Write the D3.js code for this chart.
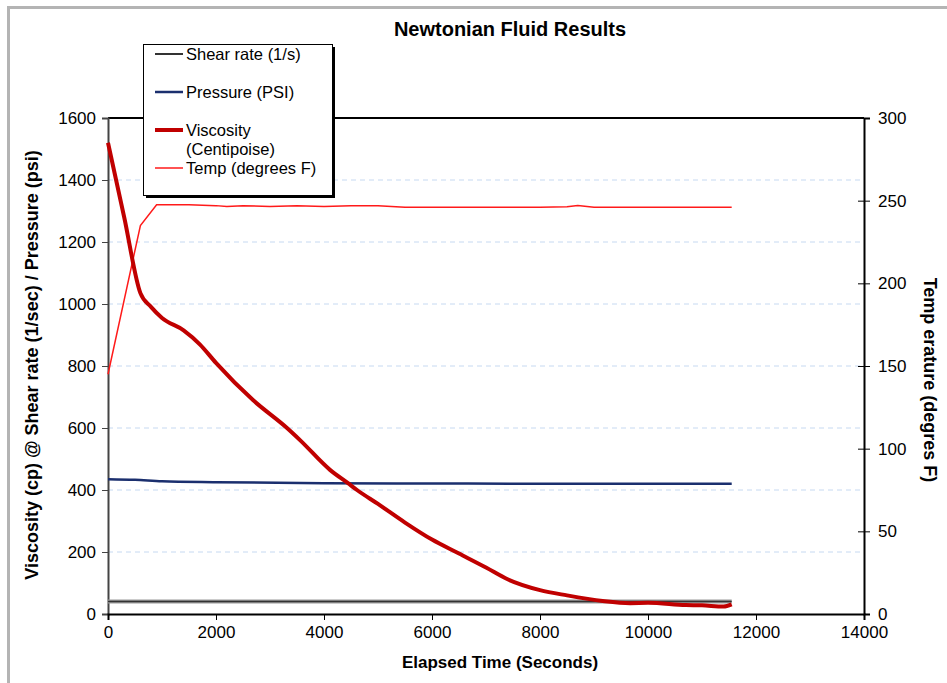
<!DOCTYPE html>
<meta charset="utf-8">
<style>
body { margin: 0; background: #fff; }
svg { font-family: "Liberation Sans", Arial, sans-serif; }
.grid line { stroke: #c6d9f1; stroke-dasharray: 5,4; }
.tick text { font-size: 17px; fill: #000; }
</style>
<svg width="947" height="683"></svg>
<script src="https://cdn.jsdelivr.net/npm/d3@7"></script>
<script>
// data
var viscTime = [0, 300, 600, 800, 1000, 1400, 1700, 2000, 2685, 3315, 3556, 4111, 4444, 4611, 5000, 5500, 6000, 6500, 7000, 7400, 8000, 8500, 9160, 9670, 10000, 10700, 11000, 11400, 11550];
var viscosity = [1520, 1280, 1035, 990, 955, 915, 870, 810, 690, 600, 561, 465, 422, 400, 355, 295, 240, 195, 150, 112, 77, 60, 42, 35, 36, 29, 28, 24, 31];
var presTime = [0, 500, 1000, 2000, 4000, 6000, 8000, 11550];
var pressure = [435, 433, 428, 425, 422, 421, 420, 420];
var shearTime = [0, 11550];
var shearRate = [40, 40];
var tempTime = [0, 600, 900, 1500, 2000, 2200, 2500, 3000, 3500, 4000, 4500, 5000, 5500, 6000, 7000, 8000, 8500, 8700, 9000, 10000, 11550];
var temperature = [145, 235, 247.5, 247.5, 247, 246.5, 247, 246.5, 247, 246.5, 247, 247, 246, 246, 246, 246, 246.3, 247, 246, 246, 246];
var leftTicks = [0, 200, 400, 600, 800, 1000, 1200, 1400, 1600];
var rightTicks = [0, 50, 100, 150, 200, 250, 300];
var xTicks = [0, 2000, 4000, 6000, 8000, 10000, 12000, 14000];

var svg = d3.select("svg");
var plotLeft = 108, plotRight = 864, plotTop = 118, plotBottom = 614;

var x = d3.scaleLinear().domain([0, 14000]).range([plotLeft, plotRight]);
var y = d3.scaleLinear().domain([0, 1600]).range([plotBottom, plotTop]);
var y2 = d3.scaleLinear().domain([0, 300]).range([plotBottom, plotTop]);

// outer frame
svg.append("path")
    .attr("d", "M8.5,683 L8.5,7.5 L947,7.5")
    .attr("fill", "none")
    .attr("stroke", "#b4b4b4")
    .attr("stroke-width", 3);

// title
svg.append("text")
    .attr("x", 510).attr("y", 36)
    .attr("text-anchor", "middle")
    .attr("font-weight", "bold")
    .attr("font-size", 20)
    .text("Newtonian Fluid Results");

// grid lines
svg.append("g").attr("class", "grid")
  .selectAll("line")
  .data(leftTicks.filter(function(d) { return d > 0 && d < 1600; }))
  .enter().append("line")
    .attr("x1", plotLeft).attr("x2", plotRight)
    .attr("y1", function(d) { return y(d); })
    .attr("y2", function(d) { return y(d); });

// top border
svg.append("line")
    .attr("x1", plotLeft).attr("x2", plotRight)
    .attr("y1", plotTop).attr("y2", plotTop)
    .attr("stroke", "#000").attr("stroke-width", 2);

// axes
var gl = svg.append("g").attr("transform", "translate(" + plotLeft + ",0)")
    .call(d3.axisLeft(y).tickValues(leftTicks).tickSize(6).tickPadding(6).tickFormat(d3.format("d")));
gl.select(".domain").attr("stroke", "#444").attr("stroke-width", 2);
gl.selectAll(".tick line").attr("stroke", "#444");

var gr = svg.append("g").attr("transform", "translate(" + plotRight + ",0)")
    .call(d3.axisRight(y2).tickValues(rightTicks).tickSize(6).tickPadding(8));
gr.select(".domain").attr("stroke", "#000").attr("stroke-width", 2);
gr.selectAll(".tick line").attr("x1", -6).attr("stroke", "#000");

var gb = svg.append("g").attr("transform", "translate(0," + plotBottom + ")")
    .call(d3.axisBottom(x).tickValues(xTicks).tickSize(6).tickPadding(6).tickFormat(d3.format("d")));
gb.select(".domain").attr("stroke", "#000").attr("stroke-width", 2);
gb.selectAll(".tick line").attr("stroke", "#000");

// axis titles
svg.append("text")
    .attr("transform", "translate(38,365) rotate(-90)")
    .attr("text-anchor", "middle")
    .attr("font-weight", "bold")
    .attr("font-size", 18)
    .text("Viscosity (cp) @ Shear rate (1/sec) / Pressure (psi)");

svg.append("text")
    .attr("transform", "translate(924,380) rotate(90)")
    .attr("text-anchor", "middle")
    .attr("font-weight", "bold")
    .attr("font-size", 18)
    .text("Temp erature (degres F)");

svg.append("text")
    .attr("x", 500).attr("y", 668)
    .attr("text-anchor", "middle")
    .attr("font-weight", "bold")
    .attr("font-size", 17)
    .text("Elapsed Time (Seconds)");

// series
function pts(ts, vs) { return ts.map(function(t, i) { return [t, vs[i]]; }); }
var line = d3.line().x(function(d) { return x(d[0]); }).y(function(d) { return y(d[1]); }).curve(d3.curveMonotoneX);
var line2 = d3.line().x(function(d) { return x(d[0]); }).y(function(d) { return y2(d[1]); });

svg.append("path").datum(pts(shearTime, shearRate))
    .attr("d", line).attr("fill", "none").attr("stroke", "#999").attr("stroke-width", 4);
svg.append("path").datum(pts(shearTime, shearRate))
    .attr("d", line).attr("fill", "none").attr("stroke", "#333").attr("stroke-width", 1.5);

svg.append("path").datum(pts(presTime, pressure))
    .attr("d", line).attr("fill", "none").attr("stroke", "#1b2f6e").attr("stroke-width", 2.5);

svg.append("path").datum(pts(tempTime, temperature))
    .attr("d", line2).attr("fill", "none").attr("stroke", "#ff1a1a").attr("stroke-width", 1.5);

svg.append("path").datum(pts(viscTime, viscosity))
    .attr("d", line).attr("fill", "none").attr("stroke", "#c00000").attr("stroke-width", 4)
    .attr("stroke-linejoin", "round");

// legend
var lg = svg.append("g");
lg.append("rect").attr("x", 146).attr("y", 47).attr("width", 189).attr("height", 151).attr("fill", "#000");
lg.append("rect").attr("x", 143.5).attr("y", 44.5).attr("width", 189).attr("height", 151)
    .attr("fill", "#fff").attr("stroke", "#000").attr("stroke-width", 1);

var legendItems = [
  {label: ["Shear rate (1/s)"], color: "#333", w: 2, y: 54},
  {label: ["Pressure (PSI)"], color: "#1b2f6e", w: 2.5, y: 92},
  {label: ["Viscosity", "(Centipoise)"], color: "#c00000", w: 4, y: 130},
  {label: ["Temp (degrees F)"], color: "#ff1a1a", w: 1.5, y: 168}
];
legendItems.forEach(function(d) {
  lg.append("line").attr("x1", 155).attr("x2", 183).attr("y1", d.y).attr("y2", d.y)
    .attr("stroke", d.color).attr("stroke-width", d.w);
  d.label.forEach(function(s, i) {
    lg.append("text").attr("x", 186).attr("y", d.y + 6 + i * 19)
      .attr("font-size", 16.5).text(s);
  });
});
</script>
